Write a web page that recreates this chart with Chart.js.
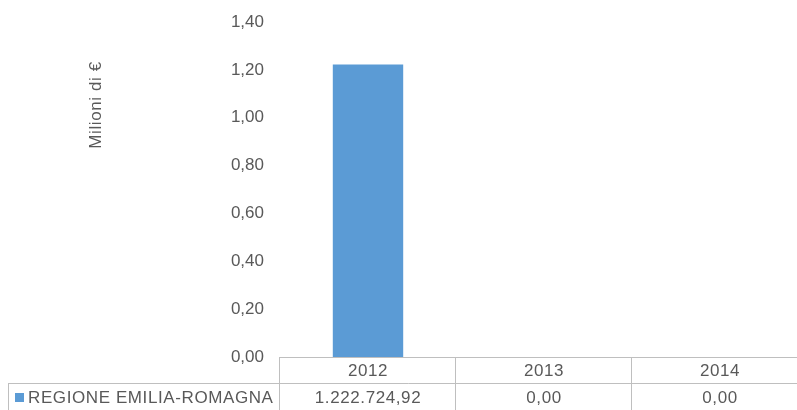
<!DOCTYPE html>
<html>
<head>
<meta charset="utf-8">
<script src="https://cdn.jsdelivr.net/npm/chart.js@4/dist/chart.umd.min.js"></script>
<style>
  html, body { margin: 0; padding: 0; background: #fff; overflow: hidden; }
  #wrap { width: 808px; height: 410px; }
</style>
</head>
<body>
<div id="wrap"><canvas id="myChart"></canvas></div>
<script>
const years = ['2012', '2013', '2014'];
const seriesName = 'REGIONE EMILIA-ROMAGNA';
const values = [1222724.92, 0, 0];          // euro
const valuesMil = values.map(v => v / 1000000);
const yTicks = [0, 0.2, 0.4, 0.6, 0.8, 1.0, 1.2, 1.4];
const axisTitle = 'Milioni di €';

const textColor = '#595959';
const lineColor = '#bfbfbf';
const barColor = '#5b9bd5';
const font = 'Liberation Sans, Arial, sans-serif';

function itNum(v, d) {
    return v.toLocaleString('it-IT', { minimumFractionDigits: d, maximumFractionDigits: d });
}

// draws the data table under the plot and the y title
const tablePlugin = {
    id: 'dataTable',
    afterDraw(chart) {
        const ctx = chart.ctx;
        const x = chart.scales.x;
        const area = chart.chartArea;
        const colW = x.width / years.length;
        const top = area.bottom;
        const mid = top + 26;
        const bottom = top + 60;
        ctx.save();
        ctx.strokeStyle = lineColor;
        ctx.lineWidth = 1;
        ctx.beginPath();
        ctx.moveTo(area.left, top + 0.5); ctx.lineTo(area.right, top + 0.5);
        ctx.moveTo(8.5, mid + 0.5); ctx.lineTo(area.right, mid + 0.5);
        ctx.moveTo(8.5, mid); ctx.lineTo(8.5, bottom);
        for (let i = 0; i <= years.length; i++) {
            const px = Math.round(area.left + i * colW) - 0.5;
            ctx.moveTo(px, top); ctx.lineTo(px, bottom);
        }
        ctx.stroke();

        ctx.fillStyle = textColor;
        ctx.font = '17px ' + font;
        ctx.letterSpacing = '0.6px';
        ctx.textAlign = 'center';
        ctx.textBaseline = 'middle';
        years.forEach((y, i) => {
            const cx = x.getPixelForValue(i);
            ctx.fillText(y, cx, top + 14);
            ctx.fillText(itNum(values[i], 2), cx, mid + 15);
        });
        // legend key
        ctx.fillStyle = barColor;
        ctx.fillRect(15, mid + 10, 9, 9);
        ctx.fillStyle = textColor;
        ctx.textAlign = 'left';
        ctx.fillText(seriesName, 28, mid + 15);

        // y axis title
        ctx.translate(96, 105);
        ctx.rotate(-Math.PI / 2);
        ctx.textAlign = 'center';
        ctx.fillText(axisTitle, 0, 0);
        ctx.restore();
    }
};

new Chart(document.getElementById('myChart'), {
    type: 'bar',
    data: {
        labels: years,
        datasets: [{
            label: seriesName,
            data: valuesMil,
            backgroundColor: barColor,
            borderWidth: 0,
            categoryPercentage: 1,
            barPercentage: 0.4
        }]
    },
    options: {
        responsive: true,
        maintainAspectRatio: false,
        animation: false,
        layout: { padding: { top: 22, right: 0, bottom: 0, left: 0 } },
        plugins: { legend: { display: false }, tooltip: { enabled: false } },
        scales: {
            x: {
                grid: { display: false },
                border: { display: false },
                ticks: { display: false },
                afterFit: s => { s.height = 53; }
            },
            y: {
                min: 0,
                max: 1.4,
                afterBuildTicks: s => { s.ticks = yTicks.map(v => ({ value: v })); },
                grid: { display: false },
                border: { display: false },
                ticks: {
                    color: textColor,
                    font: { family: font, size: 17 },
                    padding: 8,
                    callback: v => itNum(v, 2)
                },
                afterFit: s => { s.width = 280; }
            }
        }
    },
    plugins: [tablePlugin]
});
</script>
</body>
</html>
